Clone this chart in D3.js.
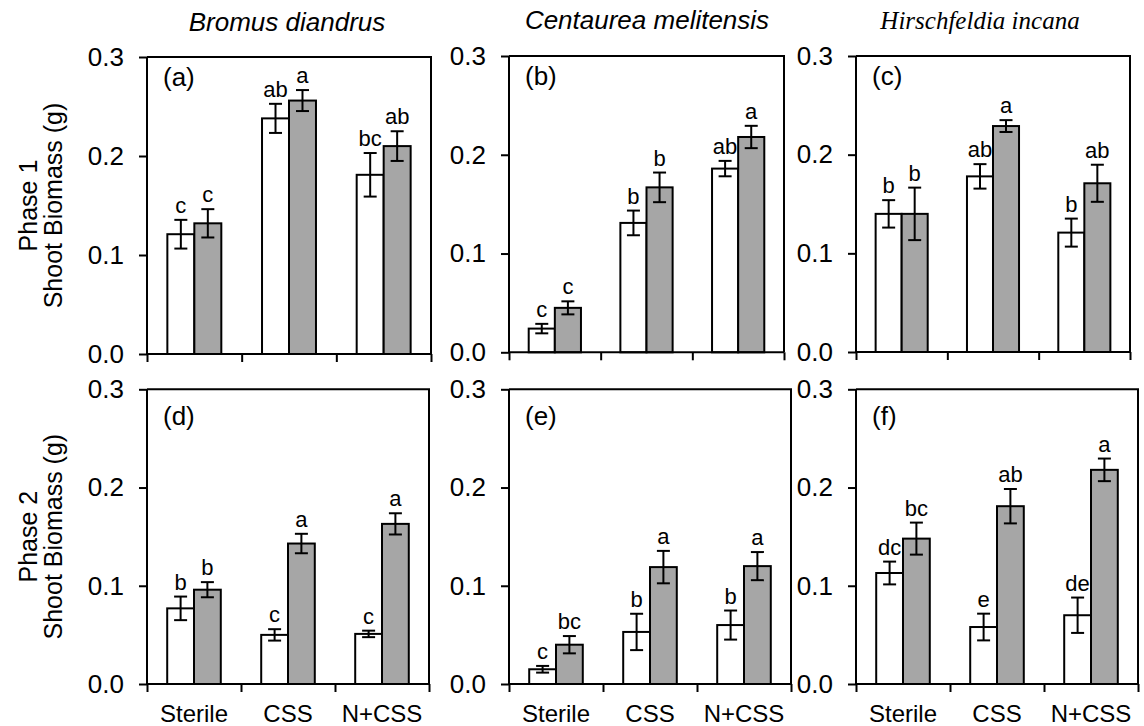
<!DOCTYPE html>
<html>
<head>
<meta charset="utf-8">
<script src="https://cdn.jsdelivr.net/npm/d3@7"></script>
<style>
  html, body { margin: 0; padding: 0; background: #fff; }
  svg { display: block; }
  text { font-family: Arial, "Liberation Sans", sans-serif; fill: #000; }
</style>
</head>
<body>
<svg id="chart" width="1144" height="726"></svg>
<script>
// ---------------- data ----------------
const categories = ["Sterile", "CSS", "N+CSS"];
const species = ["Bromus diandrus", "Centaurea melitensis", "Hirschfeldia incana"];
const phases = ["Phase 1", "Phase 2"];
const panelLabels = ["(a)", "(b)", "(c)", "(d)", "(e)", "(f)"];
const yTicks = [0, 0.1, 0.2, 0.3];
const yTickLabels = ["0.0", "0.1", "0.2", "0.3"];

// rows: panels a..f ; columns: Sterile, CSS, N+CSS
const whiteMean = [
  [0.121, 0.238, 0.181],
  [0.024, 0.131, 0.186],
  [0.140, 0.178, 0.121],
  [0.077, 0.050, 0.051],
  [0.015, 0.053, 0.060],
  [0.113, 0.058, 0.070]
];
const whiteSE = [
  [0.0145, 0.0147, 0.022],
  [0.0048, 0.0125, 0.0078],
  [0.0139, 0.0124, 0.0142],
  [0.012, 0.0058, 0.0033],
  [0.0034, 0.0185, 0.0148],
  [0.0116, 0.0136, 0.018]
];
const greyMean = [
  [0.132, 0.256, 0.210],
  [0.045, 0.167, 0.218],
  [0.140, 0.229, 0.171],
  [0.096, 0.143, 0.163],
  [0.040, 0.119, 0.120],
  [0.148, 0.181, 0.218]
];
const greySE = [
  [0.0143, 0.0106, 0.015],
  [0.0066, 0.015, 0.0113],
  [0.0266, 0.006, 0.0188],
  [0.0077, 0.0099, 0.0108],
  [0.0088, 0.0165, 0.0143],
  [0.0163, 0.0175, 0.0115]
];
const whiteLetters = [
  ["c", "ab", "bc"],
  ["c", "b", "ab"],
  ["b", "ab", "b"],
  ["b", "c", "c"],
  ["c", "b", "b"],
  ["dc", "e", "de"]
];
const greyLetters = [
  ["c", "a", "ab"],
  ["c", "b", "a"],
  ["b", "a", "ab"],
  ["b", "a", "a"],
  ["bc", "a", "a"],
  ["bc", "ab", "a"]
];

// ---------------- layout ----------------
const panelBoxes = [
  {x0: 147, x1: 431, y0: 57, y1: 354},
  {x0: 509, x1: 784, y0: 56, y1: 352.3},
  {x0: 856, x1: 1130, y0: 56, y1: 352},
  {x0: 147, x1: 429, y0: 389.3, y1: 684},
  {x0: 509, x1: 791, y0: 389.3, y1: 684},
  {x0: 856, x1: 1138, y0: 389.3, y1: 684}
];
const greyFill = "#a6a6a6";
const svg = d3.select("#chart");

panelBoxes.forEach((b, i) => {
  const g = svg.append("g");
  const y = d3.scaleLinear().domain([0, 0.3]).range([b.y1, b.y0]);
  const xb = d3.scaleBand().domain(categories).range([b.x0, b.x1]).padding(0);
  const xe = d3.scaleLinear().domain([0, 3]).range([b.x0, b.x1]);
  const bw = xb.bandwidth() * 0.285;

  // bars
  const rows = categories.map((c, j) => ({c, j}));
  const series = [
    {mean: whiteMean[i], se: whiteSE[i], letters: whiteLetters[i], fill: "#fff", off: -1},
    {mean: greyMean[i], se: greySE[i], letters: greyLetters[i], fill: greyFill, off: 0}
  ];
  series.forEach(s => {
    const cx = d => xb(d.c) + xb.bandwidth() / 2 + s.off * bw;
    g.selectAll(null).data(rows).enter().append("rect")
      .attr("x", d => cx(d))
      .attr("y", d => y(s.mean[d.j]))
      .attr("width", bw)
      .attr("height", d => y(0) - y(s.mean[d.j]))
      .attr("fill", s.fill)
      .attr("stroke", "#000")
      .attr("stroke-width", 2);
    // error bars
    const mid = d => cx(d) + bw / 2;
    const eg = g.selectAll(null).data(rows).enter().append("g")
      .attr("stroke", "#000").attr("stroke-width", 2);
    eg.append("line")
      .attr("x1", mid).attr("x2", mid)
      .attr("y1", d => y(s.mean[d.j] + s.se[d.j]))
      .attr("y2", d => y(s.mean[d.j] - s.se[d.j]));
    eg.append("line")
      .attr("x1", d => mid(d) - 6.5).attr("x2", d => mid(d) + 6.5)
      .attr("y1", d => y(s.mean[d.j] + s.se[d.j]))
      .attr("y2", d => y(s.mean[d.j] + s.se[d.j]));
    eg.append("line")
      .attr("x1", d => mid(d) - 6.5).attr("x2", d => mid(d) + 6.5)
      .attr("y1", d => y(s.mean[d.j] - s.se[d.j]))
      .attr("y2", d => y(s.mean[d.j] - s.se[d.j]));
    // letters
    g.selectAll(null).data(rows).enter().append("text")
      .attr("x", mid)
      .attr("y", d => y(s.mean[d.j] + s.se[d.j]) - 7)
      .attr("text-anchor", "middle")
      .style("font-size", "22px")
      .text(d => s.letters[d.j]);
  });

  // box (top and right)
  g.append("path")
    .attr("d", `M${b.x0},${b.y0}H${b.x1}V${b.y1}`)
    .attr("fill", "none").attr("stroke", "#000").attr("stroke-width", 2);

  // y axis
  const ya = g.append("g").attr("transform", `translate(${b.x0},0)`)
    .call(d3.axisLeft(y).tickValues(yTicks).tickSize(8).tickPadding(15)
      .tickFormat((d, k) => yTickLabels[k]));
  ya.select(".domain").attr("d", `M0,${b.y0}V${b.y1}`).attr("stroke-width", 2);
  ya.selectAll(".tick line").attr("stroke-width", 2);
  ya.selectAll(".tick text").style("font-size", "26px").style("font-family", "Arial, 'Liberation Sans', sans-serif");

  // x axis: boundary ticks
  const xa = g.append("g").attr("transform", `translate(0,${b.y1})`)
    .call(d3.axisBottom(xe).tickValues([0, 1, 2, 3]).tickSize(8).tickFormat(""));
  xa.select(".domain").attr("d", `M${b.x0},0H${b.x1}`).attr("stroke-width", 2);
  xa.selectAll(".tick line").attr("stroke-width", 2);

  // category labels (bottom row only)
  if (i >= 3) {
    const xl = g.append("g").attr("transform", `translate(0,${b.y1})`)
      .call(d3.axisBottom(xb).tickSize(0).tickPadding(21));
    xl.select(".domain").remove();
    xl.selectAll(".tick text").style("font-size", "24px").style("font-family", "Arial, 'Liberation Sans', sans-serif");
  }

  // panel label
  g.append("text")
    .attr("x", b.x0 + 16)
    .attr("y", b.y0 + (i < 3 ? 29 : 36))
    .style("font-size", "26px")
    .text(panelLabels[i]);
});

// species titles
const titleX = [287, 647, 980];
const titleY = [30.5, 28.5, 29];
species.forEach((s, k) => {
  svg.append("text")
    .attr("x", titleX[k]).attr("y", titleY[k])
    .attr("text-anchor", "middle")
    .style("font-size", k === 2 ? "25px" : "26px")
    .style("font-style", "italic")
    .style("font-family", k === 2 ? "'Times New Roman', 'Liberation Serif', serif" : "Arial, 'Liberation Sans', sans-serif")
    .text(s);
});

// y axis titles
phases.forEach((p, r) => {
  const b = panelBoxes[r * 3];
  const cy = (b.y0 + b.y1) / 2;
  const t = svg.append("text")
    .attr("transform", `translate(37,${cy}) rotate(-90)`)
    .attr("text-anchor", "middle")
    .style("font-size", "25px");
  t.text(p);
  svg.append("text")
    .attr("transform", `translate(62,${cy}) rotate(-90)`)
    .attr("text-anchor", "middle")
    .style("font-size", "25px")
    .text("Shoot Biomass (g)");
});
</script>
</body>
</html>
